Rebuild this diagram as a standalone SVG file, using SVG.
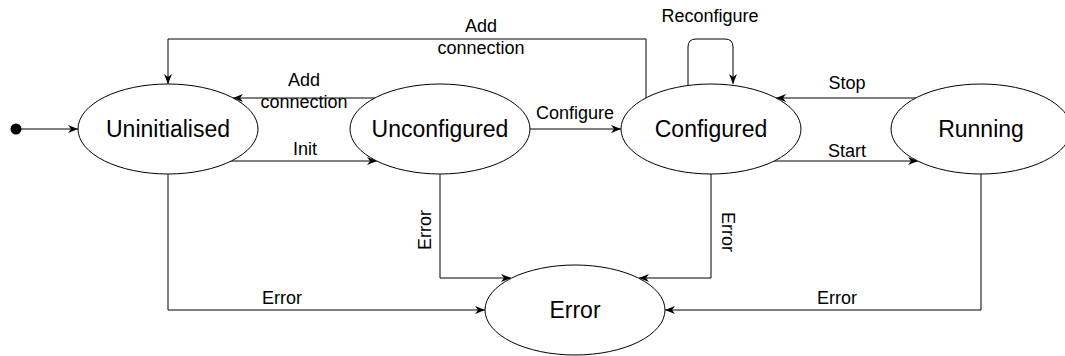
<svg xmlns="http://www.w3.org/2000/svg" width="1065" height="356" viewBox="0 0 1065 356">
<style>
.node ellipse{fill:#fff;stroke:#000;stroke-width:1}
.node text{font-family:"Liberation Sans",Arial,sans-serif;font-size:23px;fill:#000;text-anchor:middle}
.edges path{fill:none;stroke:#000;stroke-width:1}
.lbl{font-family:"Liberation Sans",Arial,sans-serif;font-size:18px;fill:#000;text-anchor:middle}
</style>
<defs>
<marker id="arr" viewBox="0 0 10 8" refX="10" refY="4" markerWidth="10" markerHeight="8" markerUnits="userSpaceOnUse" orient="auto">
<path d="M0,0 L10,4 L0,8 L3,4 z" fill="#000"/>
</marker>
</defs>
<rect width="1065" height="356" fill="#fff"/>
<g class="edges">
<path d="M16,129 L78,129" marker-end="url(#arr)"/>
<path d="M231,161 L377,161" marker-end="url(#arr)"/>
<path d="M375,98 L233,98" marker-end="url(#arr)"/>
<path d="M646,98 L646,39 L168,39 L168,84" marker-end="url(#arr)"/>
<path d="M530,129 L621,129" marker-end="url(#arr)"/>
<path d="M688,85 L688,47 Q688,39 696,39 L725,39 Q733,39 733,47 L733,84" marker-end="url(#arr)"/>
<path d="M916,98 L776,98" marker-end="url(#arr)"/>
<path d="M774,161 L918,161" marker-end="url(#arr)"/>
<path d="M168,174 L168,310 L485,310" marker-end="url(#arr)"/>
<path d="M440,174 L440,278 L511,278" marker-end="url(#arr)"/>
<path d="M711,174 L711,278 L639,278" marker-end="url(#arr)"/>
<path d="M981,174 L981,310 L665,310" marker-end="url(#arr)"/>
<text class="lbl" x="305" y="155">Init</text>
<text class="lbl" x="304" y="86">Add</text>
<text class="lbl" x="304" y="108">connection</text>
<text class="lbl" x="481" y="32">Add</text>
<text class="lbl" x="481" y="54">connection</text>
<text class="lbl" x="575" y="119">Configure</text>
<text class="lbl" x="710" y="22">Reconfigure</text>
<text class="lbl" x="847" y="89">Stop</text>
<text class="lbl" x="847" y="157">Start</text>
<text class="lbl" x="282" y="304">Error</text>
<text class="lbl" x="837" y="304">Error</text>
<text class="lbl" transform="translate(424,230) rotate(-90)" y="6.5">Error</text>
<text class="lbl" transform="translate(728,232) rotate(90)" y="6.5">Error</text>
</g>
<circle cx="16" cy="129" r="5.5" fill="#000"/>
<g id="uninitialised" class="node"><ellipse cx="168" cy="129" rx="90" ry="45"/><text x="168" y="137">Uninitialised</text></g>
<g id="unconfigured" class="node"><ellipse cx="440" cy="129" rx="90" ry="45"/><text x="440" y="137">Unconfigured</text></g>
<g id="configured" class="node"><ellipse cx="711" cy="129" rx="90" ry="45"/><text x="711" y="137">Configured</text></g>
<g id="running" class="node"><ellipse cx="981" cy="129" rx="90" ry="45"/><text x="981" y="137">Running</text></g>
<g id="error" class="node"><ellipse cx="575" cy="310" rx="90" ry="45"/><text x="575" y="318">Error</text></g>
</svg>
